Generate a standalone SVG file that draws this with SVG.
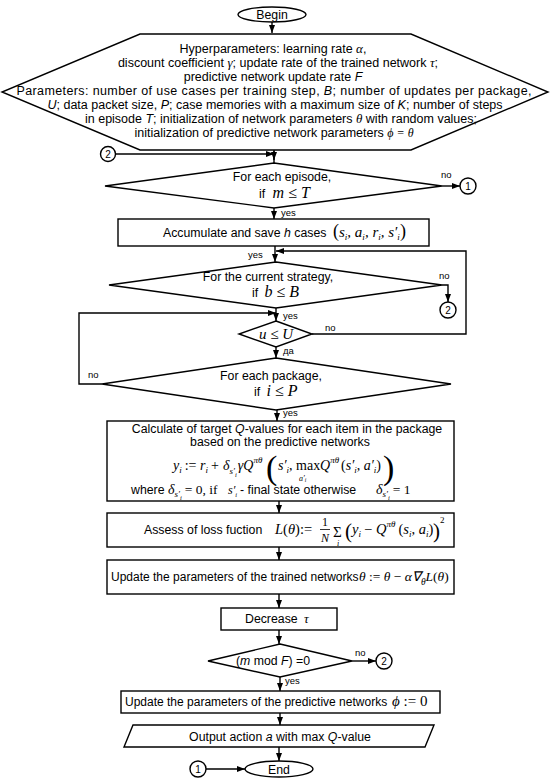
<svg xmlns="http://www.w3.org/2000/svg" width="550" height="783" viewBox="0 0 550 783">
<style>
.s{fill:#fff;stroke:#000;stroke-width:1.4}
.c{fill:none;stroke:#000;stroke-width:1.4}
.t{font-family:"Liberation Sans",Arial,sans-serif;font-size:12.3px;fill:#000}
.tm{font-family:"Liberation Sans",Arial,sans-serif;font-size:12.3px;fill:#000;text-anchor:middle}
.h{font-family:"Liberation Sans",Arial,sans-serif;font-size:12.5px;fill:#000;text-anchor:middle}
.m{font-family:"Liberation Serif","Times New Roman",serif;font-style:italic}
.mu{font-family:"Liberation Serif","Times New Roman",serif;font-style:normal}
.lbl{font-family:"Liberation Sans",Arial,sans-serif;font-size:9.5px;fill:#000}
.cn{font-family:"Liberation Sans",Arial,sans-serif;font-size:10px;fill:#000;text-anchor:middle}
</style>
<defs>
<marker id="ah" markerWidth="8" markerHeight="6" refX="8" refY="3" orient="auto" markerUnits="userSpaceOnUse">
<path d="M0,0 L8,3 L0,6 z" fill="#000"/>
</marker>
</defs>
<rect width="550" height="783" fill="#fff"/>

<g id="connectors">
<path class="c" d="M272,22 V33" marker-end="url(#ah)"/>
<path class="c" d="M274,149 V163"/>
<path class="c" d="M274,151 V160" marker-end="url(#ah)"/>
<path class="c" d="M116,154 H274" marker-end="url(#ah)"/>
<path class="c" d="M442,186 H460" marker-end="url(#ah)"/>
<path class="c" d="M274,208 V219" marker-end="url(#ah)"/>
<path class="c" d="M275,246 V262" marker-end="url(#ah)"/>
<path class="c" d="M312,334 H466 V251 H276" marker-end="url(#ah)"/>
<path class="c" d="M442,285 H448 V302" marker-end="url(#ah)"/>
<path class="c" d="M276,308 V321" marker-end="url(#ah)"/>
<path class="c" d="M102,384 H79 V313 H276" marker-end="url(#ah)"/>
<path class="c" d="M276,347 V358" marker-end="url(#ah)"/>
<path class="c" d="M277,410 V421" marker-end="url(#ah)"/>
<path class="c" d="M279,501 V513" marker-end="url(#ah)"/>
<path class="c" d="M279,547 V560" marker-end="url(#ah)"/>
<path class="c" d="M279,594 V608" marker-end="url(#ah)"/>
<path class="c" d="M279,630 V644" marker-end="url(#ah)"/>
<path class="c" d="M352,661 H376" marker-end="url(#ah)"/>
<path class="c" d="M280,677 V691" marker-end="url(#ah)"/>
<path class="c" d="M280,713 V725" marker-end="url(#ah)"/>
<path class="c" d="M279,747 V761" marker-end="url(#ah)"/>
<path class="c" d="M206,769 H245" marker-end="url(#ah)"/>
<text class="lbl" x="441" y="178">no</text>
<text class="lbl" x="281" y="216">yes</text>
<text class="lbl" x="248" y="258">yes</text>
<text class="lbl" x="439" y="279">no</text>
<text class="lbl" x="283" y="319">yes</text>
<text class="lbl" x="325" y="331">no</text>
<text class="lbl" x="283" y="354">да</text>
<text class="lbl" x="88" y="378">no</text>
<text class="lbl" x="283" y="416">yes</text>
<text class="lbl" x="355" y="656">no</text>
<text class="lbl" x="285" y="684">yes</text>
</g>

<g id="begin">
<ellipse class="s" cx="272" cy="14.5" rx="34" ry="7.5"/>
<text class="tm" x="272" y="19">Begin</text>
</g>

<g id="init">
<polygon class="s" points="140,34 411,34 548,92 411,150 140,150 2,92"/>
<text class="h" x="273" y="52.5">Hyperparameters: learning rate <tspan class="m" style="font-size:13px">α</tspan>,</text>
<text class="h" x="278" y="66.5">discount coefficient <tspan class="m" style="font-size:13px">γ</tspan>; update rate of the trained network <tspan class="m" style="font-size:13px">τ</tspan>;</text>
<text class="h" x="273" y="80.5">predictive network update rate <tspan font-style="italic">F</tspan></text>
<text class="h" x="274" y="94.5" textLength="515" lengthAdjust="spacing">Parameters: number of use cases per training step, <tspan font-style="italic">B</tspan>; number of updates per package,</text>
<text class="h" x="275" y="108.5"><tspan font-style="italic">U</tspan>; data packet size, <tspan font-style="italic">P</tspan>; case memories with a maximum size of <tspan font-style="italic">K</tspan>; number of steps</text>
<text class="h" x="281" y="122.5">in episode <tspan font-style="italic">T</tspan>; initialization of network parameters <tspan class="m" style="font-size:13px">θ</tspan> with random values;</text>
<text class="h" x="274" y="136.5">initialization of predictive network parameters <tspan class="m" style="font-size:12px">ϕ = θ</tspan></text>
</g>

<g id="conn2a">
<circle class="s" cx="108" cy="154" r="7.5"/>
<text class="cn" x="108" y="157.5">2</text>
</g>

<g id="episode">
<polygon class="s" points="274,163 442,186 274,208 105,186"/>
<text class="tm" x="282" y="181">For each episode,</text>
<text class="t" x="259" y="198">if <tspan class="m" style="font-size:16px" dx="4">m ≤ T</tspan></text>
</g>

<g id="conn1a">
<circle class="s" cx="468" cy="186" r="8"/>
<text class="cn" x="468" y="189.5">1</text>
</g>

<g id="accumulate">
<rect class="s" x="118" y="219" width="311" height="27"/>
<text class="t" x="163" y="237">Accumulate and save <tspan font-style="italic">h</tspan> cases</text>
<text class="m" x="333" y="237" style="font-size:15px"><tspan class="mu" style="font-size:18px">(</tspan>s<tspan style="font-size:9px" dy="3">i</tspan><tspan dy="-3">, a</tspan><tspan style="font-size:9px" dy="3">i</tspan><tspan dy="-3">, r</tspan><tspan style="font-size:9px" dy="3">i</tspan><tspan dy="-3">, s′</tspan><tspan style="font-size:9px" dy="3">i</tspan><tspan class="mu" style="font-size:18px" dy="-3">)</tspan></text>
</g>

<g id="strategy">
<polygon class="s" points="276,262 442,285 276,308 109,285"/>
<text class="tm" x="268" y="281">For the current strategy,</text>
<text class="t" x="252" y="297">if <tspan class="m" style="font-size:16px" dx="3">b ≤ B</tspan></text>
</g>

<g id="conn2b">
<circle class="s" cx="448" cy="310" r="8"/>
<text class="cn" x="448" y="313.5">2</text>
</g>

<g id="update-check">
<polygon class="s" points="276,321 312,334 276,347 239,334"/>
<text class="m" x="276" y="339" style="font-size:15px" text-anchor="middle">u ≤ U</text>
</g>

<g id="package">
<polygon class="s" points="276,358 451,384 276,410 102,384"/>
<text class="tm" x="271" y="380">For each package,</text>
<text class="t" x="254" y="396">if <tspan class="m" style="font-size:16px" dx="3">i ≤ P</tspan></text>
</g>

<g id="target">
<rect class="s" x="107" y="421" width="347" height="80"/>
<text class="tm" x="287" y="433">Calculate of target <tspan font-style="italic">Q</tspan>-values for each item in the package</text>
<text class="tm" x="280" y="446">based on the predictive networks</text>
<g style="font-size:14px" fill="#000">
<text class="m" x="173" y="470">y<tspan style="font-size:9px" dy="3">i</tspan><tspan class="mu" dy="-3" dx="3">:=</tspan></text>
<text class="m" x="200" y="470">r<tspan style="font-size:9px" dy="3">i</tspan><tspan class="mu" dy="-3" dx="3">+</tspan></text>
<text class="m" x="223" y="470">δ<tspan style="font-size:9px" dy="4">s′</tspan><tspan style="font-size:6.5px" dy="3">i</tspan><tspan dy="-7" dx="1">γQ</tspan><tspan style="font-size:9px" dy="-7">πθ</tspan></text>
<text class="mu" x="266" y="479" style="font-size:34px">(</text>
<text class="m" x="278" y="470">s′<tspan style="font-size:9px" dy="3">i</tspan><tspan class="mu" dy="-3">, max</tspan></text>
<text class="m" x="299" y="481" style="font-size:8px">a′<tspan style="font-size:5.5px" dy="1">i</tspan></text>
<text class="m" x="320" y="470">Q<tspan style="font-size:9px" dy="-7">πθ</tspan><tspan class="mu" dy="7" dx="2">(</tspan>s′<tspan style="font-size:9px" dy="3">i</tspan><tspan class="mu" dy="-3">, </tspan>a′<tspan style="font-size:9px" dy="3">i</tspan><tspan class="mu" dy="-3">)</tspan></text>
<text class="mu" x="383" y="479" style="font-size:34px">)</text>
</g>
<text class="t" x="131" y="494">where</text>
<text class="m" x="168" y="494" style="font-size:14px" fill="#000">δ<tspan style="font-size:9px" dy="3">s′</tspan><tspan style="font-size:6.5px" dy="3">i</tspan><tspan class="mu" style="font-size:13.5px" dy="-6" dx="3">= 0, if</tspan></text>
<text class="m" x="228" y="494" style="font-size:12px" fill="#000">s′<tspan style="font-size:6.5px" dy="3">i</tspan></text>
<text class="t" x="240" y="494">-  final state otherwise</text>
<text class="m" x="376" y="494" style="font-size:14px" fill="#000">δ<tspan style="font-size:9px" dy="3">s′</tspan><tspan style="font-size:6.5px" dy="3">i</tspan><tspan class="mu" style="font-size:13.5px" dy="-6" dx="3">= 1</tspan></text>
</g>

<g id="loss">
<rect class="s" x="107" y="513" width="347" height="34"/>
<text class="t" x="144" y="534">Assess of loss fuction</text>
<g style="font-size:14.5px" fill="#000">
<text class="m" x="275" y="534">L<tspan class="mu">(</tspan>θ<tspan class="mu">):=</tspan></text>
<text class="mu" x="325" y="526" style="font-size:12px" text-anchor="middle">1</text>
<text class="m" x="325" y="542" style="font-size:12px" text-anchor="middle">N</text>
<text class="mu" x="333" y="537" style="font-size:15px">Σ</text>
<text class="m" x="337" y="546" style="font-size:8px">i</text>
<text class="mu" x="345" y="538" style="font-size:21px">(</text>
<text class="m" x="352" y="534">y<tspan style="font-size:9px" dy="3">i</tspan><tspan class="mu" dy="-3" dx="3">−</tspan></text>
<text class="m" x="376" y="534">Q<tspan style="font-size:9px" dy="-7">πθ</tspan><tspan class="mu" dy="7" dx="3">(</tspan>s<tspan style="font-size:9px" dy="3">i</tspan><tspan class="mu" dy="-3">, </tspan>a<tspan style="font-size:9px" dy="3">i</tspan><tspan class="mu" dy="-3">)</tspan></text>
<text class="mu" x="433" y="538" style="font-size:21px">)</text>
<text class="mu" x="440" y="523" style="font-size:9px">2</text>
</g>
<line x1="320" y1="529.5" x2="330" y2="529.5" stroke="#000" stroke-width="0.8"/>
</g>

<g id="update-trained">
<rect class="s" x="107" y="560" width="347" height="34"/>
<text class="t" x="111" y="581" style="font-size:12px">Update the parameters of the trained networks</text>
<text class="m" x="359" y="581" style="font-size:13.5px" fill="#000">θ<tspan class="mu"> := </tspan>θ<tspan class="mu"> − </tspan>α∇<tspan style="font-size:9.5px" dy="4">θ</tspan><tspan dy="-4">L</tspan><tspan class="mu">(</tspan>θ<tspan class="mu">)</tspan></text>
</g>

<g id="decrease">
<rect class="s" x="221" y="608" width="116" height="22"/>
<text class="t" x="245" y="623">Decrease</text>
<text class="m" x="304" y="623" style="font-size:13px" fill="#000">τ</text>
</g>

<g id="mod-check">
<polygon class="s" points="280,644 352,661 280,677 208,661"/>
<text class="tm" x="273" y="665">(<tspan font-style="italic">m</tspan> mod <tspan font-style="italic">F</tspan>) =0</text>
</g>

<g id="conn2c">
<circle class="s" cx="384" cy="661" r="8"/>
<text class="cn" x="384" y="664.5">2</text>
</g>

<g id="update-predictive">
<rect class="s" x="121" y="691" width="319" height="22"/>
<text class="t" x="125" y="706" style="font-size:12px">Update the parameters of the predictive networks</text>
<text class="m" x="392" y="706" style="font-size:15px" fill="#000">ϕ<tspan class="mu"> := 0</tspan></text>
</g>

<g id="output">
<polygon class="s" points="133,725 434,725 425,747 124,747"/>
<text class="tm" x="280" y="741">Output action <tspan font-style="italic">a</tspan> with max <tspan font-style="italic">Q</tspan>-value</text>
</g>

<g id="conn1b">
<circle class="s" cx="198" cy="769" r="8"/>
<text class="cn" x="198" y="772.5">1</text>
</g>

<g id="end">
<ellipse class="s" cx="279" cy="769" rx="34" ry="8"/>
<text class="tm" x="279" y="773.5">End</text>
</g>
</svg>
